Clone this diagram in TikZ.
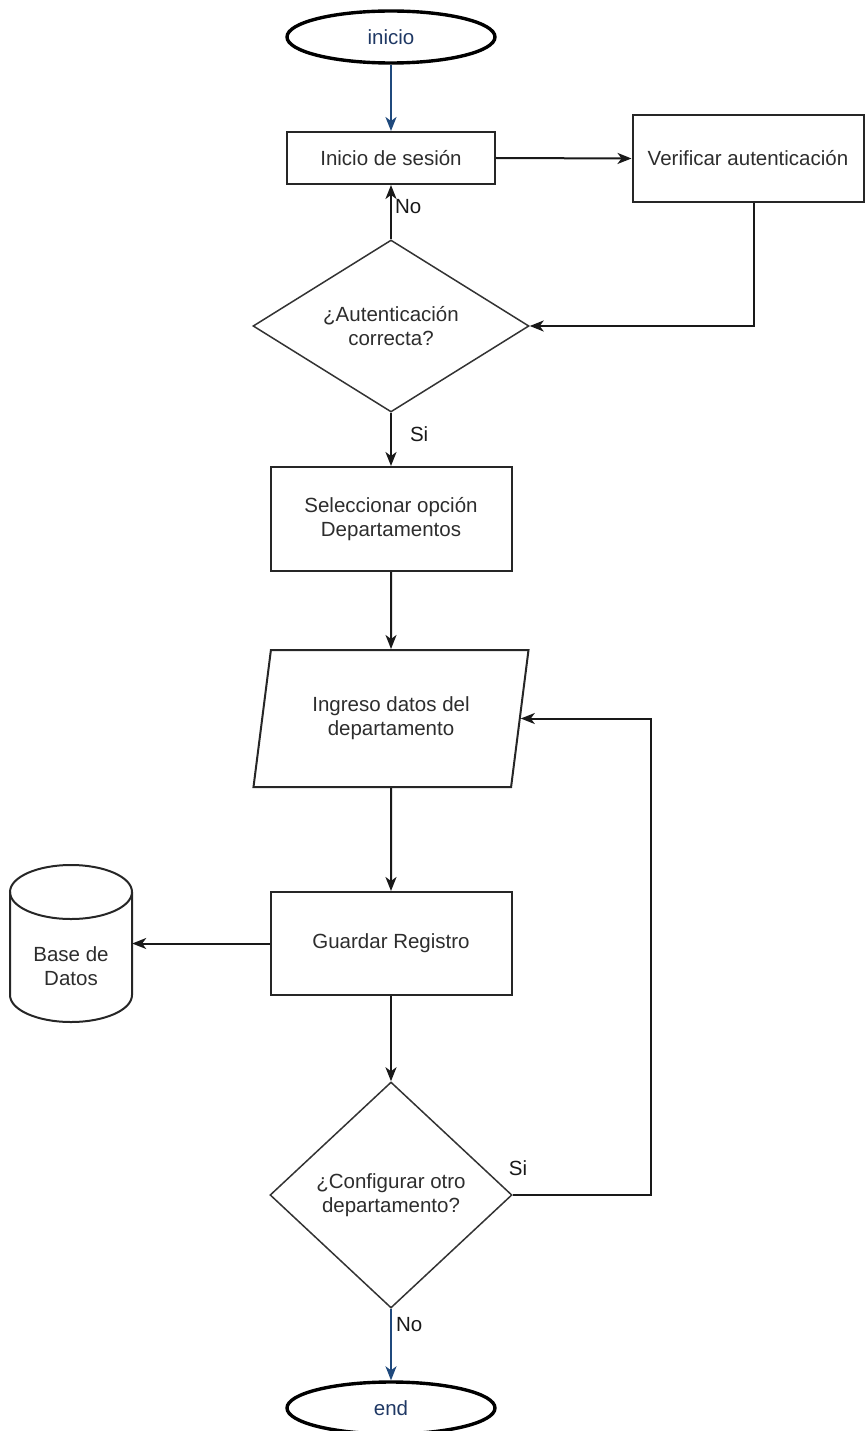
\documentclass[tikz,border=0pt]{standalone}
\usepackage{fontspec}
\setmainfont{Liberation Sans}
\usetikzlibrary{shapes.geometric,arrows.meta,calc}
\definecolor{flowblue}{RGB}{31,73,125}
\definecolor{termtext}{RGB}{31,56,100}
\definecolor{txt}{RGB}{45,45,45}
\begin{document}
\begin{tikzpicture}[x=1pt,y=-1pt,
  every node/.style={font=\fontsize{20.5}{24}\selectfont, text=txt, align=center},
  proc/.style={draw=black!85, line width=2pt, rectangle, inner sep=0pt},
  decis/.style={draw=black!80, line width=1.5pt, diamond, inner sep=0pt},
  term/.style={draw=black, line width=3.4pt, ellipse, inner sep=0pt, minimum width=208pt, minimum height=52pt, text=termtext},
  iobox/.style={draw=black!85, line width=2pt, trapezium, trapezium left angle=68, trapezium right angle=112, trapezium stretches body, inner sep=0pt},
  conn/.style={draw=black!90, line width=2pt, -{Stealth[length=14pt,width=11pt,inset=4pt]}},
  bconn/.style={draw=flowblue, line width=2pt, -{Stealth[length=14pt,width=11pt,inset=4pt]}},
  lbl/.style={inner sep=0pt, text=black!90}
]
\useasboundingbox (0,0) rectangle (865,1431);

\node[term] (inicio) at (391,37) {inicio};
\node[proc, minimum width=208pt, minimum height=52pt] (sesion) at (391,158) {Inicio de sesión};
\node[proc, minimum width=231pt, minimum height=87pt] (verif) at (748,158.5) {Verificar autenticación};
\node[decis, minimum width=276pt, minimum height=172pt, shape aspect=1.6] (d1) at (391,326) {¿Autenticación\\correcta?};
\node[proc, minimum width=241pt, minimum height=104pt] (sel) at (391,519) {Seleccionar opción\\Departamentos};
\node[iobox, minimum width=275pt, minimum height=137pt] (par) at (391,718.5) {Ingreso datos del\\departamento};
\node[proc, minimum width=241pt, minimum height=103pt] (guard) at (391,943.5) {Guardar Registro};
\node[decis, minimum width=242pt, minimum height=226pt] (d2) at (391,1195) {¿Configurar otro\\departamento?};
\node[term] (fin) at (391,1408) {end};

% database cylinder
\node[minimum width=122pt, minimum height=157pt, inner sep=0pt] (db) at (71,943.5) {};
\draw[black!85, line width=2pt] (10,892) -- (10,995) arc[start angle=180, end angle=0, x radius=61, y radius=27] -- (132,892);
\draw[black!85, line width=2pt] (71,892) ellipse[x radius=61, y radius=27];
\node (dbtext) at (71,966) {Base de\\Datos};

% connectors
\draw[bconn] (inicio.south) -- (sesion.north);
\draw[conn] (sesion.east) -- (verif.west);
\draw[conn] ($(verif.south)+(6,0)$) |- (d1.east);
\draw[conn] (d1.north) -- node[lbl, right, pos=0.6, xshift=3pt] (lno1) {No} (sesion.south);
\draw[conn] (d1.south) -- node[lbl, right, pos=0.4, xshift=18pt] (lsi1) {Si} (sel.north);
\draw[conn] (sel.south) -- (par.north);
\draw[conn] (par.south) -- (guard.north);
\draw[conn] (guard.west) -- (db.east);
\draw[conn] (guard.south) -- (d2.north);
\coordinate (loop) at (651,1195);
\draw[conn] (d2.east) -- (loop) |- (par.east);
\node[lbl] (lsi2) at (518,1168) {Si};
\draw[bconn] (d2.south) -- node[lbl, right, pos=0.22, xshift=4pt] (lno2) {No} (fin.north);
\end{tikzpicture}
\end{document}
